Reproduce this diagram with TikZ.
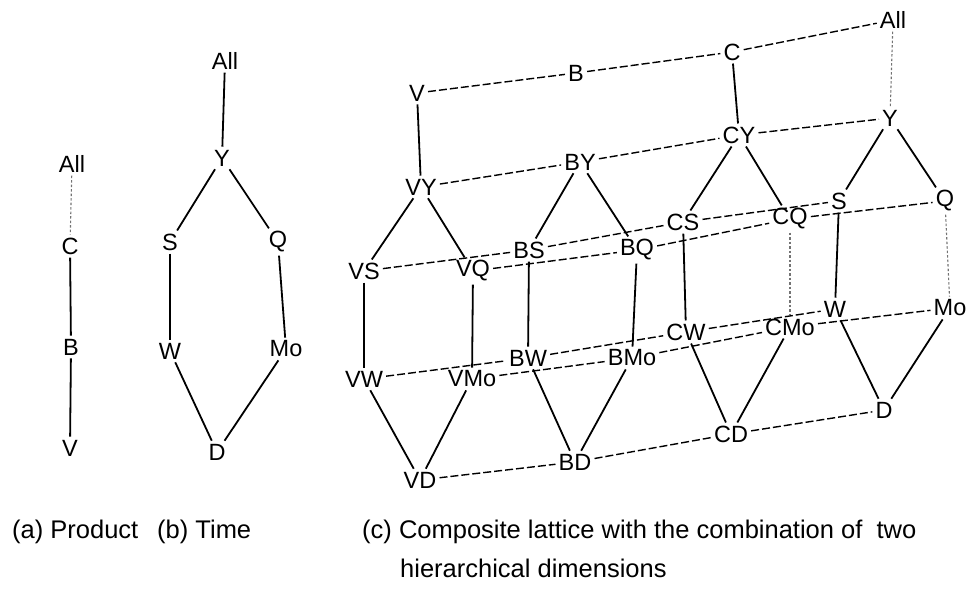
\documentclass[tikz,border=0pt]{standalone}
\usepackage{fontspec}
\setmainfont{Liberation Sans}
\newcommand{\labfont}{\fontsize{23.5pt}{28pt}\selectfont}
\newcommand{\capfont}{\fontsize{25.5pt}{30pt}\selectfont}
\begin{document}
\begin{tikzpicture}[x=1pt,y=-1pt,
  lab/.style={inner sep=3pt, font=\labfont},
  edge/.style={line width=1.8pt},
  prod/.style={line width=1.4pt, dash pattern=on 8pt off 3pt},
  faint/.style={line width=1.1pt, black!55, dash pattern=on 2.5pt off 2pt},
  capt/.style={anchor=base west, inner sep=0pt, font=\capfont}]
\useasboundingbox (0,0) rectangle (971,590);

% (a) product hierarchy
\node[lab] (aAll) at (72,164) {All};
\node[lab] (aC)   at (70,246) {C};
\node[lab] (aB)   at (71,347) {B};
\node[lab] (aV)   at (70,448) {V};
\draw[faint] (aAll) -- (aC);
\draw[edge] (aC) -- (aB);
\draw[edge] (aB) -- (aV);

% (b) time hierarchy
\node[lab] (bAll) at (225,61)  {All};
\node[lab] (bY)   at (222,158) {Y};
\node[lab] (bS)   at (170,242) {S};
\node[lab] (bQ)   at (278,242) {Q};
\node[lab] (bW)   at (170,351) {W};
\node[lab] (bMo)  at (286,349) {Mo};
\node[lab] (bD)   at (217,452) {D};
\draw[edge] (bAll) -- (bY);
\draw[edge] (bY) -- (bS);
\draw[edge] (bY) -- (bQ);
\draw[edge] (bS) -- (bW);
\draw[edge] (bQ) -- (bMo);
\draw[edge] (bW) -- (bD);
\draw[edge] (bMo) -- (bD);

% (c) composite lattice
\node[lab] (V)   at (417,93)  {V};
\node[lab] (B)   at (576,73)  {B};
\node[lab] (C)   at (732,52)  {C};
\node[lab] (All) at (893,20)  {All};

\node[lab] (VY)  at (421,187) {VY};
\node[lab] (BY)  at (580,162) {BY};
\node[lab] (CY)  at (739,135) {CY};
\node[lab] (Y)   at (890,118) {Y};

\node[lab] (VS)  at (364,271) {VS};
\node[lab] (BS)  at (529,250) {BS};
\node[lab] (CS)  at (683,222) {CS};
\node[lab] (S)   at (839,201) {S};

\node[lab] (VQ)  at (473,271) {VQ};
\node[lab] (BQ)  at (637,250) {BQ};
\node[lab] (CQ)  at (790,219) {CQ};
\node[lab] (Q)   at (945,201) {Q};

\node[lab] (VW)  at (364,379) {VW};
\node[lab] (BW)  at (528,358) {BW};
\node[lab] (CW)  at (686,332) {CW};
\node[lab] (W)   at (835,309) {W};

\node[lab] (VMo) at (472,379) {VMo};
\node[lab] (BMo) at (632,358) {BMo};
\node[lab] (CMo) at (790,327) {CMo};
\node[lab] (Mo)  at (950,308) {Mo};

\node[lab] (VD)  at (420,480) {VD};
\node[lab] (BD)  at (575,462) {BD};
\node[lab] (CD)  at (731,434) {CD};
\node[lab] (D)   at (884,410) {D};

% product-level links
\draw[prod] (V) -- (B) -- (C) -- (All);
\draw[prod] (VY) -- (BY) -- (CY) -- (Y);
\draw[prod] (VS) -- (BS) -- (CS) -- (S);
\draw[prod] (VQ) -- (BQ) -- (CQ) -- (Q);
\draw[prod] (VW) -- (BW) -- (CW) -- (W);
\draw[prod] (VMo) -- (BMo) -- (CMo) -- (Mo);
\draw[prod] (VD) -- (BD) -- (CD) -- (D);

% time-level links
\draw[edge] (V) -- (VY);
\draw[edge] (C) -- (CY);
\draw[faint] (All) -- (Y);
\foreach \p in {V,B,C,{}} {
  \draw[edge] (\p Y) -- (\p S);
  \draw[edge] (\p Y) -- (\p Q);
}
\draw[edge] (VS) -- (VW);
\draw[edge] (VQ) -- (VMo);
\draw[edge] (BS) -- (BW);
\draw[edge] (BQ) -- (BMo);
\draw[edge] (CS) -- (CW);
\draw[faint] (CQ) -- (CMo);
\draw[edge] (S) -- (W);
\draw[faint] (Q) -- (Mo);
\foreach \p in {V,B,C,{}} {
  \draw[edge] (\p W) -- (\p D);
  \draw[edge] (\p Mo) -- (\p D);
}

% captions
\node[capt] (capa) at (12,538) {(a) Product};
\node[capt] (capb) at (157,538) {(b) Time};
\node[capt] (capc) at (362,538) {(c) Composite lattice with the combination of~ two};
\node[capt] (capd) at (400,577) {hierarchical dimensions};
\end{tikzpicture}
\end{document}
